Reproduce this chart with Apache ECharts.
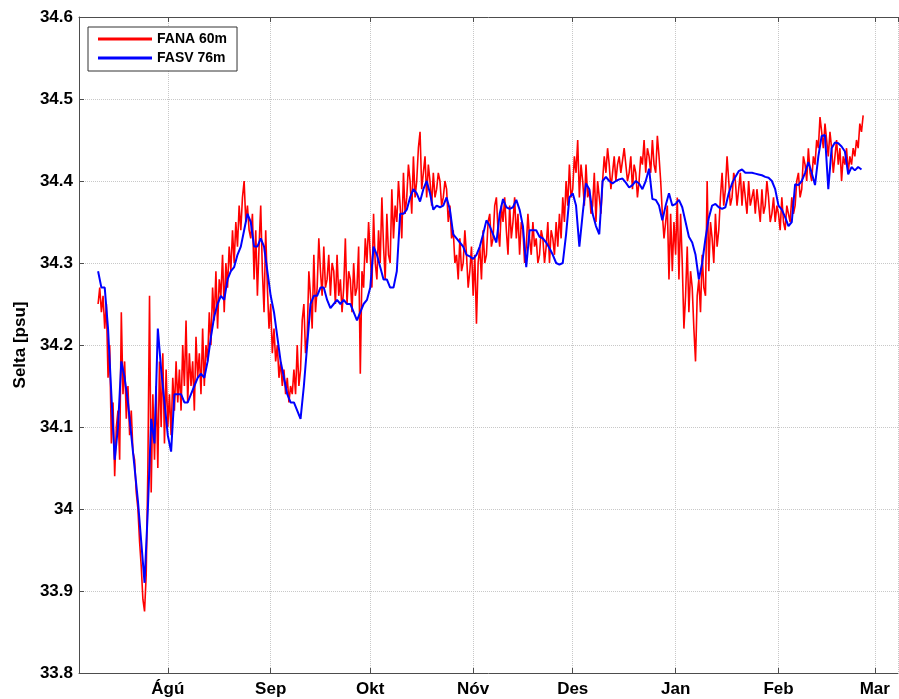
<!DOCTYPE html>
<html>
<head>
<meta charset="utf-8">
<script src="https://cdn.jsdelivr.net/npm/echarts@6/dist/echarts.min.js"></script>
<style>
  html, body { margin: 0; padding: 0; background: #fff; }
  #chart { width: 899px; height: 699px; }
</style>
</head>
<body>
<div id="chart"></div>
<script>
// Faroese month names for the time axis
const monthNames = ["Jan", "Feb", "Mar", "Apr", "Mai", "Jun", "Jul", "Ágú", "Sep", "Okt", "Nóv", "Des"];
const seriesNames = ["FANA 60m", "FASV 76m"];

// FANA 60m: two readings per day, starting 11 July 2011
const fanaValues = [
  34.25,34.27, 34.24,34.26, 34.22,34.25, 34.16,34.20, 34.08,34.13, 34.04,34.10, 34.12,34.06, 34.24,34.14, 34.18,34.11, 34.15,34.09,
  34.12,34.07, 34.06,34.02, 34.00,33.96, 33.93,33.89, 33.875,33.92, 34.05,34.26, 34.02,34.14, 34.06,34.15, 34.05,34.18, 34.10,34.19,
  34.08,34.17, 34.10,34.14, 34.09,34.16, 34.12,34.18, 34.13,34.17, 34.12,34.20, 34.15,34.23, 34.13,34.19, 34.15,34.18, 34.12,34.21,
  34.16,34.19, 34.14,34.22, 34.15,34.20, 34.18,34.24, 34.20,34.27, 34.23,34.29, 34.22,34.28, 34.26,34.31, 34.24,34.30, 34.27,34.32,
  34.29,34.34, 34.30,34.35, 34.32,34.37, 34.34,34.38, 34.40,34.35, 34.37,34.34, 34.33,34.36, 34.28,34.34, 34.26,34.32, 34.37,34.29,
  34.24,34.34, 34.27,34.22, 34.25,34.19, 34.22,34.18, 34.20,34.16, 34.18,34.15, 34.17,34.14, 34.16,34.13, 34.15,34.14, 34.17,34.14,
  34.20,34.15, 34.17,34.23, 34.25,34.19, 34.21,34.29, 34.26,34.22, 34.31,34.24, 34.27,34.33, 34.29,34.26, 34.32,34.27, 34.28,34.31,
  34.26,34.30, 34.29,34.25, 34.31,34.26, 34.28,34.24, 34.27,34.33, 34.25,34.29, 34.28,34.24, 34.30,34.26, 34.27,34.32, 34.165,34.29,
  34.27,34.33, 34.30,34.35, 34.31,34.27, 34.36,34.30, 34.28,34.34, 34.30,34.38, 34.32,34.28, 34.36,34.31, 34.30,34.39, 34.33,34.37,
  34.35,34.40, 34.37,34.33, 34.41,34.36, 34.38,34.42, 34.40,34.36, 34.43,34.38, 34.40,34.44, 34.46,34.39, 34.41,34.43, 34.38,34.42,
  34.40,34.37, 34.41,34.38, 34.39,34.41, 34.40,34.37, 34.38,34.40, 34.39,34.35, 34.37,34.33, 34.34,34.30, 34.31,34.28, 34.33,34.29,
  34.30,34.34, 34.31,34.27, 34.29,34.32, 34.26,34.31, 34.226,34.30, 34.32,34.28, 34.34,34.30, 34.31,34.35, 34.36,34.32, 34.33,34.37,
  34.38,34.34, 34.32,34.37, 34.35,34.38, 34.34,34.31, 34.37,34.33, 34.35,34.38, 34.33,34.36, 34.31,34.35, 34.34,34.30, 34.32,34.36,
  34.33,34.31, 34.35,34.32, 34.33,34.30, 34.31,34.34, 34.33,34.30, 34.32,34.35, 34.30,34.34, 34.33,34.31, 34.35,34.32, 34.36,34.33,
  34.38,34.35, 34.40,34.37, 34.42,34.38, 34.39,34.43, 34.41,34.45, 34.38,34.42, 34.40,34.37, 34.42,34.38, 34.39,34.36, 34.37,34.41,
  34.35,34.40, 34.38,34.36, 34.40,34.43, 34.41,34.44, 34.42,34.39, 34.41,34.43, 34.40,34.42, 34.43,34.41, 34.41,34.44, 34.42,34.40,
  34.41,34.43, 34.39,34.42, 34.41,34.38, 34.40,34.43, 34.42,34.45, 34.41,34.44, 34.43,34.41, 34.45,34.42, 34.41,34.455, 34.43,34.40,
  34.36,34.33, 34.35,34.37, 34.28,34.36, 34.29,34.35, 34.31,34.38, 34.28,34.36, 34.30,34.22, 34.26,34.32, 34.24,34.29, 34.27,34.22,
  34.18,34.26, 34.28,34.24, 34.31,34.27, 34.26,34.40, 34.29,34.35, 34.33,34.30, 34.36,34.32, 34.34,34.38, 34.41,34.37, 34.39,34.43,
  34.40,34.37, 34.38,34.41, 34.40,34.37, 34.39,34.41, 34.37,34.40, 34.38,34.36, 34.40,34.37, 34.38,34.39, 34.36,34.39, 34.37,34.35,
  34.39,34.36, 34.37,34.40, 34.38,34.35, 34.36,34.38, 34.35,34.37, 34.36,34.34, 34.38,34.35, 34.34,34.37, 34.36,34.35, 34.38,34.36,
  34.37,34.40, 34.41,34.38, 34.39,34.43, 34.42,34.40, 34.44,34.41, 34.40,34.43, 34.42,34.45, 34.44,34.478, 34.46,34.44, 34.47,34.45,
  34.43,34.46, 34.44,34.41, 34.43,34.45, 34.42,34.44, 34.40,34.43, 34.42,34.44, 34.41,34.43, 34.42,34.44, 34.43,34.45, 34.44,34.47,
  34.46,34.48
];

// FASV 76m: one reading per day, starting 11 July 2011
const fasvValues = [
  34.29, 34.27, 34.27, 34.22, 34.14, 34.06, 34.10, 34.18, 34.16, 34.13,
  34.09, 34.05, 34.01, 33.96, 33.91, 34.00, 34.11, 34.08, 34.22, 34.17,
  34.13, 34.09, 34.07, 34.14, 34.14, 34.14, 34.13, 34.13, 34.14, 34.15,
  34.16, 34.165, 34.16, 34.18, 34.21, 34.235, 34.25, 34.26, 34.255, 34.28,
  34.29, 34.295, 34.31, 34.32, 34.34, 34.36, 34.35, 34.32, 34.32, 34.33,
  34.32, 34.29, 34.26, 34.24, 34.21, 34.18, 34.16, 34.14, 34.13, 34.13,
  34.12, 34.11, 34.15, 34.20, 34.25, 34.26, 34.26, 34.27, 34.27, 34.255,
  34.245, 34.25, 34.255, 34.25, 34.255, 34.25, 34.25, 34.24, 34.23, 34.24,
  34.25, 34.255, 34.27, 34.32, 34.31, 34.295, 34.28, 34.28, 34.27, 34.27,
  34.29, 34.36, 34.36, 34.365, 34.38, 34.39, 34.385, 34.375, 34.39, 34.40,
  34.385, 34.365, 34.37, 34.368, 34.37, 34.38, 34.365, 34.335, 34.33, 34.325,
  34.32, 34.31, 34.308, 34.305, 34.31, 34.32, 34.335, 34.352, 34.345, 34.335,
  34.325, 34.36, 34.378, 34.368, 34.366, 34.368, 34.377, 34.365, 34.345, 34.295,
  34.34, 34.34, 34.34, 34.332, 34.33, 34.325, 34.318, 34.31, 34.30, 34.298,
  34.30, 34.335, 34.38, 34.385, 34.37, 34.32, 34.36, 34.397, 34.39, 34.36,
  34.345, 34.335, 34.40, 34.405, 34.40, 34.397, 34.40, 34.402, 34.403, 34.398,
  34.392, 34.395, 34.40, 34.397, 34.39, 34.40, 34.415, 34.378, 34.377, 34.37,
  34.352, 34.37, 34.385, 34.37, 34.372, 34.377, 34.368, 34.35, 34.332, 34.325,
  34.31, 34.28, 34.30, 34.33, 34.355, 34.37, 34.372, 34.368, 34.366, 34.368,
  34.385, 34.397, 34.405, 34.412, 34.414, 34.41, 34.41, 34.41, 34.409, 34.408,
  34.407, 34.405, 34.404, 34.40, 34.39, 34.37, 34.365, 34.356, 34.345, 34.35,
  34.396, 34.395, 34.40, 34.41, 34.423, 34.41, 34.395, 34.43, 34.455, 34.456,
  34.39, 34.44, 34.447, 34.446, 34.442, 34.436, 34.408, 34.417, 34.413, 34.417,
  34.414
];

const HOUR = 3600 * 1000;
const start = new Date(2011, 6, 11).getTime();

const fanaData = fanaValues.map((v, i) => [start + i * 12 * HOUR, v]);
const fasvData = fasvValues.map((v, i) => [start + i * 24 * HOUR, v]);

const font = "'Liberation Sans', Arial, Helvetica, sans-serif";
const axisColor = "#4d4d4d";

const chart = echarts.init(document.getElementById("chart"), null, { renderer: "canvas" });

const timeAxisBase = {
  type: "time",
  min: new Date(2011, 6, 5, 6).getTime(),
  max: new Date(2012, 2, 8).getTime(),
  splitNumber: 8,
  minInterval: 28 * 24 * HOUR,
  axisLine: { lineStyle: { color: axisColor, width: 1 } },
  axisTick: { inside: true, length: 5, lineStyle: { color: axisColor } },
};

chart.setOption({
  animation: false,
  backgroundColor: "#fff",
  grid: { left: 79, top: 17, right: 1, bottom: 26 },
  legend: {
    orient: "vertical",
    left: 88,
    top: 27,
    padding: [5, 10, 6, 10],
    itemGap: 5,
    itemWidth: 54,
    itemHeight: 3,
    icon: "rect",
    backgroundColor: "#fff",
    borderColor: "#333",
    borderWidth: 1,
    borderRadius: 0,
    textStyle: { fontFamily: font, fontWeight: "bold", fontSize: 14, color: "#000" },
    data: seriesNames,
  },
  xAxis: [
    Object.assign({}, timeAxisBase, {
      position: "bottom",
      axisLabel: {
        margin: 8,
        fontFamily: font,
        fontWeight: "bold",
        fontSize: 17,
        color: "#000",
        formatter: (val) => monthNames[new Date(val).getMonth()],
      },
      splitLine: { show: true, lineStyle: { color: "#c8c8c8", type: "dotted", width: 1 } },
    }),
    Object.assign({}, timeAxisBase, {
      position: "top",
      axisLabel: { show: false },
      splitLine: { show: false },
    }),
  ],
  yAxis: {
    type: "value",
    min: 33.8,
    max: 34.6,
    interval: 0.1,
    name: "Selta [psu]",
    nameLocation: "middle",
    nameGap: 49,
    nameTextStyle: { fontFamily: font, fontWeight: "bold", fontSize: 17, color: "#000" },
    axisLine: { show: true, lineStyle: { color: axisColor, width: 1 } },
    axisTick: { show: true, inside: true, length: 5, lineStyle: { color: axisColor } },
    axisLabel: {
      margin: 6,
      fontFamily: font,
      fontWeight: "bold",
      fontSize: 17,
      color: "#000",
      formatter: (v) => String(Math.round(v * 10) / 10),
    },
    splitLine: { show: true, lineStyle: { color: "#c8c8c8", type: "dotted", width: 1 } },
  },
  series: [
    {
      name: seriesNames[0],
      type: "line",
      data: fanaData,
      showSymbol: false,
      color: "#ff0000",
      lineStyle: { color: "#ff0000", width: 1.6 },
      sampling: "none",
      z: 2,
    },
    {
      name: seriesNames[1],
      type: "line",
      data: fasvData,
      showSymbol: false,
      color: "#0000ff",
      lineStyle: { color: "#0000ff", width: 2 },
      sampling: "none",
      z: 3,
    },
  ],
});
</script>
</body>
</html>
